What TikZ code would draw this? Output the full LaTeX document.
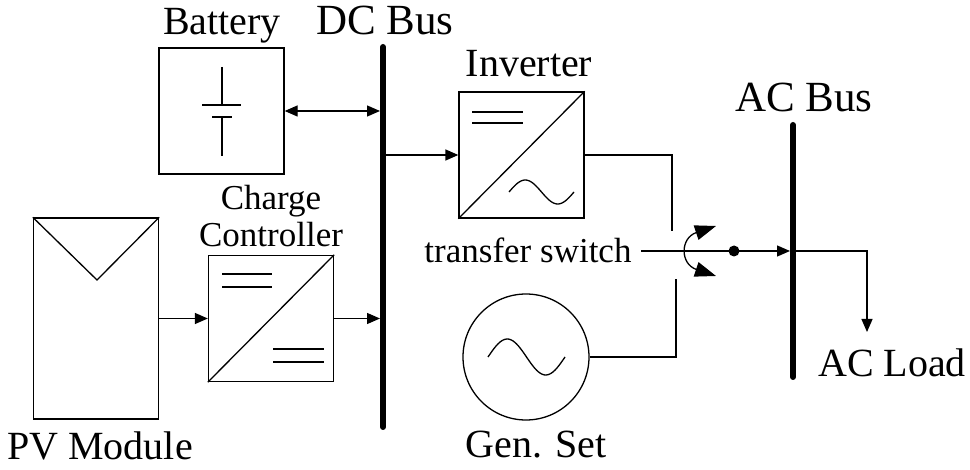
\documentclass[tikz,border=0pt]{standalone}
\usepackage{fontspec}
\setmainfont{Liberation Serif}
\usetikzlibrary{arrows.meta}

\begin{document}
\begin{tikzpicture}[x=1pt,y=-1pt,
    every node/.append style={inner sep=0pt},
    unit/.style={draw,line width=1.3pt,minimum width=125pt,minimum height=126pt},
    wire/.style={line width=1.3pt},
    flow/.style={wire,-{Triangle[length=13pt,width=11pt]}},
    bus/.style={line width=6pt,line cap=round},
    lbl/.style={anchor=base,font=\fontsize{40}{44}\selectfont},
    big/.style={anchor=base,font=\fontsize{43}{46}\selectfont},
    small/.style={anchor=base,font=\fontsize{35}{38}\selectfont}]
    \useasboundingbox (0,0) rectangle (970,470);
    % units
    \node [unit] (bat) at (221.5,111) {};
    \node [unit,minimum height=201pt] (pv) at (96,318.5) {};
    \node [unit] (cc) at (271,318.5) {};
    \node [unit] (inv) at (521.5,155) {};
    \node [draw,circle,line width=1.3pt,minimum size=126pt] (gen) at (526,357) {};
    % symbols inside
    \draw [wire] (222,67) -- (222,105) (202,105) -- (241,105);
    \draw [wire] (212,117) -- (232,117) (222,117) -- (222,156);
    \draw [wire] (pv.north west) -- (97,280) -- (pv.north east);
    \draw [wire] (cc.south west) -- (cc.north east);
    \draw [wire] (222,274) -- (272,274) (222,287) -- (272,287);
    \draw [wire] (273,349) -- (324,349) (273,362) -- (324,362);
    \draw [wire] (inv.south west) -- (inv.north east);
    \draw [wire] (472,112) -- (523,112) (472,123) -- (523,123);
    \draw [wire] plot[domain=0:360,samples=50] ({509+\x/360*65},{192-12*sin(\x)});
    \draw [wire] plot[domain=0:360,samples=50] ({488+\x/360*77},{357-18*sin(\x)});
    % buses
    \coordinate (dctop) at (383,47);
    \coordinate (dcbot) at (383,427);
    \coordinate (actop) at (793,125);
    \coordinate (acbot) at (793,377);
    % labels
    \node [lbl] (batlbl) at (222,35) {Battery};
    \node [big] (dclbl) at (385,35) {DC Bus};
    \node [lbl] (invlbl) at (529,77) {Inverter};
    \node [small] (cclbl1) at (271,210) {Charge};
    \node [small] (cclbl2) at (271,247) {Controller};
    \node [lbl] (pvlbl) at (100,460) {PV Module};
    \node [lbl] (genlbl) at (536,457) {Gen. Set};
    \node [big] (aclbl) at (804,112) {AC Bus};
    \node [lbl] (loadlbl) at (892,377) {AC Load};
    \node [small] (ts) at (528,263) {transfer switch};
    % connectors
    \draw [wire,{Triangle[length=13pt,width=11pt]}-{Triangle[length=13pt,width=11pt]},shorten >=3pt] (bat.east) -- (bat.east -| dctop);
    \draw [flow] (pv.east) -- (cc.west);
    \draw [flow,shorten >=3pt] (cc.east) -- (cc.east -| dctop);
    \draw [flow] (inv.west -| dctop) -- (inv.west);
    \coordinate (sw1) at (672,231);
    \coordinate (sw2) at (676,279);
    \draw [wire] (inv.east) -| (sw1);
    \draw [wire] (gen.east) -| (sw2);
    \coordinate (swin) at (641,251);
    \coordinate (load) at (867,332);
    \draw [flow,shorten >=3pt] (swin) -- (swin -| actop);
    \draw [flow] (swin -| actop) -| (load);
    \node [circle,fill,minimum size=11pt] (dot) at (734,251) {};
    \draw [wire,{Triangle[length=21pt,width=15pt]}-{Triangle[length=21pt,width=15pt]}] (716,226) .. controls (680,238) and (680,264) .. (716,276);
    \draw [bus] (dctop) -- (dcbot);
    \draw [bus] (actop) -- (acbot);
\end{tikzpicture}
\end{document}
